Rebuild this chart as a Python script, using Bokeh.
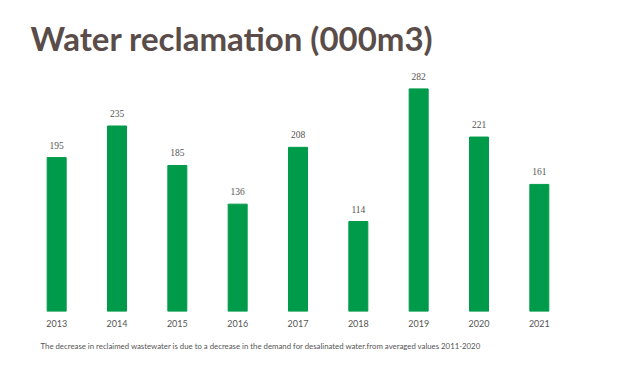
from bokeh.plotting import figure
from bokeh.models import ColumnDataSource, Title, Label, FactorRange, Range1d
from bokeh.embed import file_html
from bokeh.resources import INLINE

years = ["2013", "2014", "2015", "2016", "2017", "2018", "2019", "2020", "2021"]
values = [195, 235, 185, 136, 208, 114, 282, 221, 161]
value_labels = [str(v) for v in values]

title_text = "Water reclamation (000m3)"
note_text = ("The decrease in reclaimed wastewater is due to a decrease in the demand "
             "for desalinated water.from averaged values 2011-2020")

src = ColumnDataSource(data=dict(year=years, value=values, label=value_labels))

p = figure(width=616, height=359, output_backend="svg", toolbar_location=None,
           x_range=FactorRange(*years, range_padding=0), y_range=Range1d(0, 394),
           min_border_left=26, min_border_right=47, min_border_top=0, min_border_bottom=48)

p.vbar(x="year", top="value", width=0.315, source=src, color="#009B4A")
p.text(x="year", y="value", text="label", source=src, y_offset=-9,
       text_align="center", text_baseline="bottom", text_font_size="9.5px",
       text_color="#555555", text_font="Lato")

p.add_layout(Label(x=4, y=274, x_units="screen", y_units="screen", text=title_text,
                   text_font="Lato", text_font_size="33px", text_font_style="bold",
                   text_color="#5A4C49", text_baseline="alphabetic"))
p.add_layout(Title(text=note_text, text_font="Lato", text_font_size="7.8px",
                   text_font_style="normal", text_color="#555555", align="left",
                   offset=14, standoff=18), "below")

p.yaxis.visible = False
p.xaxis.axis_line_color = None
p.xaxis.major_tick_line_color = None
p.xaxis.minor_tick_line_color = None
p.xaxis.major_label_standoff = 2
p.xaxis.major_label_text_font = "Lato"
p.xaxis.major_label_text_font_size = "9px"
p.xaxis.major_label_text_color = "#555555"
p.xgrid.visible = False
p.ygrid.visible = False
p.outline_line_color = None

open("out.html", "w").write(file_html(p, INLINE))
